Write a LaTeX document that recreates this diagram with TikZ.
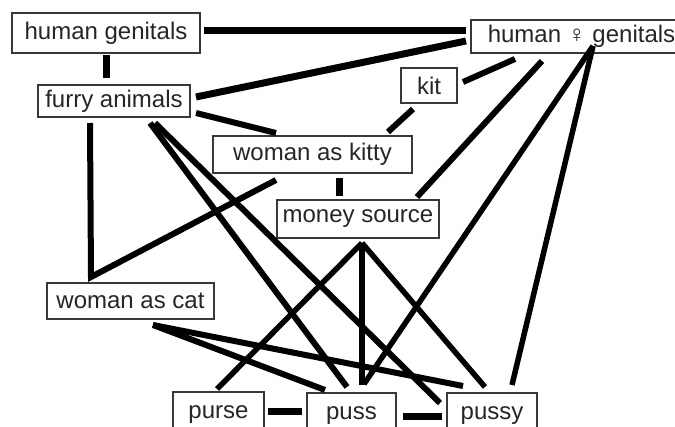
\documentclass[tikz,border=0pt]{standalone}
\usepackage{fontspec}
\setmainfont{Liberation Sans}
\begin{document}
\begin{tikzpicture}[x=1pt,y=-1pt,
  box/.style={draw=black!78, line width=1.6pt, fill=white, inner sep=0pt,
    font=\fontsize{24}{26}\selectfont, text=black!85},
  link/.style={line width=6pt, black},
  thick link/.style={line width=7pt, black},
  thin link/.style={line width=5.5pt, black}]
\useasboundingbox (0,0) rectangle (675,427);
\fill[white] (0,0) rectangle (675,427);
\clip (0,0) rectangle (675,427);

% connector end points
\coordinate (hgR) at (204,31);   \coordinate (hfL1) at (466,31);
\coordinate (hgB) at (106,55);   \coordinate (faT) at (106,78);
\coordinate (faR1) at (196,97);  \coordinate (hfL2) at (466,41);
\coordinate (faR2) at (196,113); \coordinate (wkT) at (276,133);
\coordinate (kitR) at (463,82);  \coordinate (hfB1) at (515,59);
\coordinate (kitB) at (413,109); \coordinate (wkT2) at (388,132);
\coordinate (hfB2) at (542,61);  \coordinate (msT) at (417,197);
\coordinate (wkB) at (339,178);  \coordinate (msT2) at (339,196);
\coordinate (wkB2) at (276,180); \coordinate (vtip) at (91,277);
\coordinate (faB1) at (90,123);
\coordinate (faB2) at (150,123); \coordinate (pussT1) at (347,387);
\coordinate (faB3) at (155,123); \coordinate (pussyT1) at (440,403);
\coordinate (wcB) at (153,325);  \coordinate (pussT2) at (325,390);
\coordinate (pussyT2) at (463,386);
\coordinate (msApex) at (362,243);
\coordinate (purseT) at (217,389);
\coordinate (pussT3) at (362,385);
\coordinate (pussyT3) at (485,387);
\coordinate (hfP) at (593,46);
\coordinate (pussT4) at (364,384);
\coordinate (pussyT4) at (512,385);
\coordinate (purseR) at (268,412); \coordinate (pussL) at (302,412);
\coordinate (pussR) at (403,417);  \coordinate (pussyL) at (442,417);

% nodes
\node[box, minimum width=188pt, minimum height=40pt] (hg) at (106,33) {human genitals};
\node[box, anchor=west, inner xsep=17pt, minimum height=33pt] (hf) at (470,36.5) {human ♀ genitals};
\node[box, minimum width=152pt, minimum height=32pt] (fa) at (114,101) {furry animals};
\node[box, minimum width=56pt, minimum height=35pt] (kit) at (429,85.5) {kit};
\node[box, minimum width=199pt, minimum height=37pt] (wk) at (312.5,154.5) {woman as kitty};
\node[box, minimum width=162pt, minimum height=38pt] (ms) at (358,219) {money source};
\node[box, minimum width=167pt, minimum height=36pt] (wc) at (130.5,301) {woman as cat};
\node[box, minimum width=91pt, minimum height=46pt] (purse) at (218.5,415) {purse};
\node[box, minimum width=89pt, minimum height=46pt] (puss) at (351.5,416) {puss};
\node[box, minimum width=90pt, minimum height=46pt] (pussy) at (492,416) {pussy};

% connectors
\draw[thick link] (hgR) -- (hfL1);
\draw[thick link] (hgB) -- (faT);
\draw[thick link] (faR1) -- (hfL2);
\draw[link] (faR2) -- (wkT);
\draw[link] (kitR) -- (hfB1);
\draw[link] (kitB) -- (wkT2);
\draw[link] (hfB2) -- (msT);
\draw[thick link] (wkB) -- (msT2);
\draw[link] (faB1) -- (vtip) -- (wkB2);
\draw[link] (faB2) -- (pussT1);
\draw[link] (faB3) -- (pussyT1);
\draw[link] (wcB) -- (pussT2);
\draw[link] (wcB) -- (pussyT2);
\draw[thin link] (msApex) -- (purseT);
\draw[thin link] (msApex) -- (pussT3);
\draw[thin link] (msApex) -- (pussyT3);
\draw[thin link] (hfP) -- (pussT4);
\draw[thin link] (hfP) -- (pussyT4);
\draw[thick link] (purseR) -- (pussL);
\draw[thick link] (pussR) -- (pussyL);
\end{tikzpicture}
\end{document}
